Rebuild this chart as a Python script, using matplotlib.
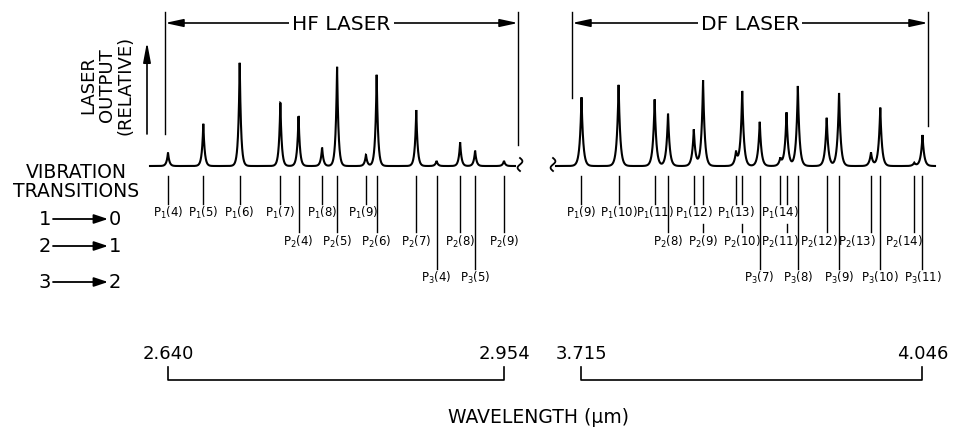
import numpy as np
import matplotlib
matplotlib.use("Agg")
import matplotlib.pyplot as plt
from matplotlib.transforms import blended_transform_factory

plt.rcParams["font.family"] = ["DejaVu Sans"]
plt.rcParams["mathtext.default"] = "regular"

# HF laser lines: upper vibrational level v (band v -> v-1), rotational J,
# wavelength (um) and relative output
hf_band = [1, 1, 1, 1, 2, 1, 2, 1, 2, 2, 3, 2, 3, 2]
hf_j = [4, 5, 6, 7, 4, 8, 5, 9, 6, 7, 4, 8, 5, 9]
hf_wavelength = [2.640, 2.673, 2.707, 2.745, 2.762, 2.784, 2.798,
                 2.825, 2.835, 2.872, 2.891, 2.913, 2.927, 2.954]
hf_output = [13, 41, 100, 62, 49, 18, 97, 11, 89, 54, 5, 23, 15, 5]

# DF laser lines
df_band = [1, 1, 1, 2, 1, 2, 1, 2, 3, 1, 2, 3, 2, 3, 2, 3, 2, 3]
df_j = [9, 10, 11, 8, 12, 9, 13, 10, 7, 14, 11, 8, 12, 9, 13, 10, 14, 11]
df_wavelength = [3.715, 3.751, 3.786, 3.799, 3.824, 3.833, 3.865, 3.871, 3.888,
                 3.908, 3.914, 3.925, 3.953, 3.965, 3.996, 4.005, 4.038, 4.046]
df_output = [67, 79, 65, 51, 35, 83, 13, 73, 43, 7, 52, 77, 47, 71, 13, 57, 3, 30]

# wavelength ranges written under each spectrum
hf_range = [2.640, 2.954]
df_range = [3.715, 4.046]

W, H = 955, 431
fig = plt.figure(figsize=(W / 100, H / 100), dpi=100)
fig.patch.set_facecolor("white")

# full-figure overlay in pixel rows for annotations
ov = fig.add_axes([0, 0, 1, 1])
ov.set_xlim(0, W)
ov.set_ylim(H, 0)
ov.axis("off")
ov.set_zorder(0)

BASE_ROW = 167      # baseline of spectra
TOP_ROW = 13
TICK_TOP = 177
TICK_BOTTOM = {1: 205, 2: 233, 3: 270}
LABEL_ROW = {1: 213, 2: 242, 3: 278}


def band_axes(px_left, px_right, px_a, px_b, lam_range):
    s = (lam_range[1] - lam_range[0]) / (px_b - px_a)
    ax = fig.add_axes([px_left / W, 1 - BASE_ROW / H,
                       (px_right - px_left) / W, (BASE_ROW - TOP_ROW) / H])
    ax.set_xlim(lam_range[0] + (px_left - px_a) * s,
                lam_range[0] + (px_right - px_a) * s)
    ax.set_ylim(0, (BASE_ROW - TOP_ROW) / 1.04)
    ax.axis("off")
    ax.set_zorder(1)
    return ax, s, px_left


def draw_band(ax, s, px_left, band, jval, lam, out, trace_px, span_px,
              span_bottoms, title, width_px, label_nudge):
    trans = blended_transform_factory(ax.transData, ov.transData)
    lam = np.asarray(lam, float)
    out = np.asarray(out, float)
    x0 = ax.get_xlim()[0]

    def to_lam(p):
        return x0 + (p - px_left) * s

    # spectrum trace: sharp emission spikes on a flat baseline
    x = np.linspace(to_lam(trace_px[0]), to_lam(trace_px[1]), 6000)
    w = width_px * s
    y = np.zeros_like(x)
    for l, h in zip(lam, out):
        y += h * np.exp(-np.abs(x - l) / w)
    ax.plot(x, y, color="black", lw=1.5, clip_on=False, solid_joinstyle="miter")

    # label centres (pixel offsets only shift text)
    lab_x = [l + label_nudge.get((b, j), 0) * s for b, j, l in zip(band, jval, lam)]

    # line markers below the trace, broken where they cross a label row
    for b, j, l in zip(band, jval, lam):
        segs = [[TICK_TOP, TICK_BOTTOM[b]]]
        for b2, lx in zip(band, lab_x):
            if b2 < b and abs(lx - l) / s < 10.5:
                r = LABEL_ROW[b2]
                new = []
                for a, c in segs:
                    if a < r - 8 < c:
                        new.append([a, r - 8])
                        new.append([r + 12, c])
                    else:
                        new.append([a, c])
                segs = new
        for a, c in segs:
            ax.plot([l, l], [a, c], transform=trans, color="black", lw=1.0,
                    clip_on=False)
    for b, j, lx in zip(band, jval, lab_x):
        ax.text(lx, LABEL_ROW[b], r"$\mathregular{P_{%d}(%d)}$" % (b, j),
                transform=trans, ha="center", va="center", fontsize=8.5,
                clip_on=False)

    # laser range markers and title
    sp = [to_lam(span_px[0]), to_lam(span_px[1])]
    for xv, bottom in zip(sp, span_bottoms):
        ax.plot([xv, xv], [TOP_ROW, bottom], transform=trans, color="black",
                lw=1.0, clip_on=False)
    ax.annotate("", xy=(sp[0], 24), xytext=(sp[1], 24), xycoords=trans,
                textcoords=trans,
                arrowprops=dict(arrowstyle="<|-|>,head_length=0.6,head_width=0.13",
                                mutation_scale=18, color="black", lw=1.2,
                                shrinkA=0, shrinkB=0))
    ax.text((sp[0] + sp[1]) / 2, 24, title, transform=trans, ha="center",
            va="center", fontsize=14.5,
            bbox=dict(boxstyle="square,pad=0.15", fc="white", ec="none"))
    return trans


ax_hf, s_hf, l_hf = band_axes(140, 530, 168, 504, hf_range)
ax_df, s_df, l_df = band_axes(545, 945, 581.5, 922.5, df_range)

tr_hf = draw_band(ax_hf, s_hf, l_hf, hf_band, hf_j, hf_wavelength, hf_output,
                  trace_px=(150, 515), span_px=(165, 518), span_bottoms=(135, 146),
                  title="HF LASER", width_px=1.4, label_nudge={(1, 9): -3})
tr_df = draw_band(ax_df, s_df, l_df, df_band, df_j, df_wavelength, df_output,
                  trace_px=(556, 935), span_px=(572, 928), span_bottoms=(99, 127),
                  title="DF LASER", width_px=1.7,
                  label_nudge={(2, 11): -7, (2, 12): -8, (2, 13): -14, (2, 14): -10})

# wavelength scale brackets with end values
for ax, tr, rng in ((ax_hf, tr_hf, hf_range), (ax_df, tr_df, df_range)):
    ax.plot([rng[0], rng[0], rng[1], rng[1]], [368, 381, 381, 368], transform=tr,
            color="black", lw=1.2, clip_on=False)
    for v in rng:
        ax.text(v, 354, f"{v:.3f}", transform=tr, ha="center", va="center",
                fontsize=13, clip_on=False)

# break marks between the two spectra
t = np.linspace(0, 1, 60)
for xc in (520, 553):
    ov.plot(xc + 2.4 * np.sin(2 * np.pi * t), 159 + 13 * t, color="black", lw=1.3)

# axis titles
ov.text(107, 85, "LASER\nOUTPUT\n(RELATIVE)", rotation=90, ha="center",
        va="center", fontsize=13, linespacing=1.05, multialignment="center")
ov.annotate("", xy=(147, 43), xytext=(147, 135),
            arrowprops=dict(arrowstyle="-|>,head_length=0.8,head_width=0.15",
                            mutation_scale=15, color="black", lw=1.2,
                            shrinkA=0, shrinkB=0))
ov.text(76, 182, "VIBRATION\nTRANSITIONS", ha="center", va="center",
        fontsize=13.5, linespacing=1.0)

# vibrational band key
for row, (upper, lower) in zip((220, 247, 283), ((1, 0), (2, 1), (3, 2))):
    ov.text(45, row, str(upper), ha="center", va="center", fontsize=14)
    ov.annotate("", xy=(108, row), xytext=(53, row),
                arrowprops=dict(arrowstyle="-|>,head_length=0.6,head_width=0.2",
                                mutation_scale=14, color="black", lw=1.3,
                                shrinkA=0, shrinkB=0))
    ov.text(115, row, str(lower), ha="center", va="center", fontsize=14)

ov.text(538, 418, "WAVELENGTH (\u03bcm)", ha="center", va="center", fontsize=13.5)

fig.savefig("out.png", dpi=100, facecolor="white")
